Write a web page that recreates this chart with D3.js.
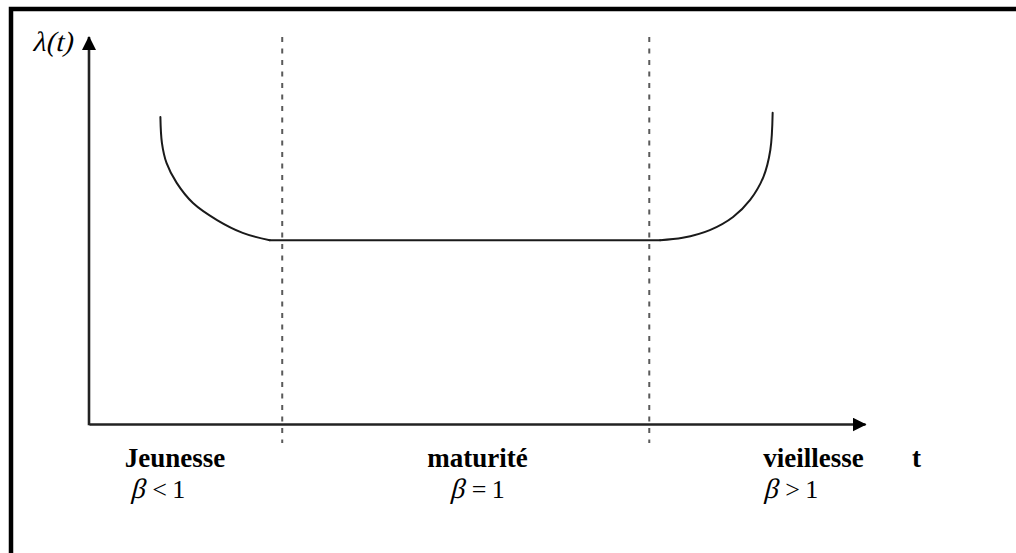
<!DOCTYPE html>
<html>
<head>
<meta charset="utf-8">
<script src="https://cdn.jsdelivr.net/npm/d3@7"></script>
<style>
  html, body { margin: 0; padding: 0; background: #fff; }
  svg { display: block; }
</style>
</head>
<body>
<svg id="chart" width="1016" height="553"></svg>
<script>
// Bathtub curve of the failure rate λ(t), drawn in three phases
const youthT       = [0.92, 0.94, 1.00, 1.13, 1.34, 1.65, 1.98, 2.33];
const youthLambda  = [7.93, 7.26, 6.74, 6.23, 5.71, 5.27, 4.94, 4.75];
const matureT      = [2.33, 7.36];
const matureLambda = [4.75, 4.75];
const oldT         = [7.36, 7.65, 8.00, 8.30, 8.52, 8.69, 8.78, 8.81];
const oldLambda    = [4.75, 4.81, 5.01, 5.35, 5.79, 6.38, 7.08, 8.04];

// Phase boundaries (dashed verticals)
const boundaries = [2.49, 7.22];

// Phase labels below the t axis
const phaseNames  = ["Jeunesse", "maturité", "vieillesse"];
const phaseNameT  = [0.46, 4.36, 8.69];
const betaSigns   = ["<", "=", ">"];
const betaT       = [0.53, 4.65, 8.69];

const svg = d3.select("#chart");
const W = 1016, H = 553;
const SERIF = "Liberation Serif";

const x = d3.scaleLinear().domain([0, 10]).range([89, 865]);
const y = d3.scaleLinear().domain([0, 10]).range([424, 37]);

// outer frame
svg.append("rect")
  .attr("x", 11).attr("y", 9)
  .attr("width", W).attr("height", H)
  .attr("fill", "none").attr("stroke", "#000").attr("stroke-width", 4.5);

// arrowheads
svg.append("defs").append("marker")
  .attr("id", "arrow")
  .attr("viewBox", "0 0 14 14")
  .attr("refX", 13).attr("refY", 7)
  .attr("markerWidth", 14).attr("markerHeight", 14)
  .attr("markerUnits", "userSpaceOnUse")
  .attr("orient", "auto")
  .append("path")
  .attr("d", "M0,0 L14,7 L0,14 Z")
  .attr("fill", "#000");

// axes: no ticks, domain line ends in an arrow
function arrowAxis(g) {
  g.select(".domain")
    .attr("stroke", "#222").attr("stroke-width", 2.6)
    .attr("marker-end", "url(#arrow)");
}
svg.append("g")
  .attr("transform", `translate(0,${y(0)})`)
  .call(d3.axisBottom(x).tickValues([]).tickSizeOuter(0))
  .call(arrowAxis);
svg.append("g")
  .attr("transform", `translate(${x(0)},0)`)
  .call(d3.axisLeft(y).tickValues([]).tickSizeOuter(0))
  .call(g => g.select(".domain").attr("d", `M0,${y(0) + 1.3}V${y(10)}`))
  .call(arrowAxis);

// dashed phase boundaries
svg.selectAll(".boundary")
  .data(boundaries)
  .join("line")
  .attr("class", "boundary")
  .attr("x1", d => x(d)).attr("x2", d => x(d))
  .attr("y1", y(10)).attr("y2", y(0) + 19)
  .attr("stroke", "#5a5a5a").attr("stroke-width", 2)
  .attr("stroke-dasharray", "5,6.5");

// hazard curve
const line = d3.line()
  .x(d => x(d[0])).y(d => y(d[1]))
  .curve(d3.curveCatmullRom.alpha(0.5));
const phases = [
  [youthT, youthLambda],
  [matureT, matureLambda],
  [oldT, oldLambda]
].map(([ts, ls]) => ts.map((t, i) => [t, ls[i]]));
svg.selectAll(".hazard")
  .data(phases)
  .join("path")
  .attr("class", "hazard")
  .attr("d", line)
  .attr("fill", "none")
  .attr("stroke", "#1a1a1a")
  .attr("stroke-width", 2)
  .attr("stroke-linecap", "round");

// italic look produced by slanting the upright serif face
function slanted(px, py, size, str) {
  return svg.append("text")
    .attr("transform", `translate(${px},${py}) skewX(-14)`)
    .attr("font-family", SERIF)
    .attr("font-size", size)
    .attr("fill", "#000")
    .text(str);
}

// y-axis label λ(t)
slanted(32, 51, 28, "λ(t)");

// phase names
svg.selectAll(".phase")
  .data(phaseNames)
  .join("text")
  .attr("class", "phase")
  .attr("x", (d, i) => x(phaseNameT[i]))
  .attr("y", 467)
  .attr("font-family", SERIF)
  .attr("font-weight", "bold")
  .attr("font-size", 27)
  .attr("fill", "#000")
  .text(d => d);

// t label at the end of the time axis
svg.append("text")
  .attr("x", 912).attr("y", 467)
  .attr("font-family", SERIF)
  .attr("font-weight", "bold")
  .attr("font-size", 27)
  .attr("fill", "#000")
  .text("t");

// shape parameter ranges: β <sign> 1
betaSigns.forEach((s, i) => {
  const bx = x(betaT[i]);
  slanted(bx, 498, 28, "β");
  svg.append("text")
    .attr("x", bx + 22).attr("y", 498)
    .attr("font-family", SERIF)
    .attr("font-size", 26)
    .attr("fill", "#000")
    .text(s);
  svg.append("text")
    .attr("x", bx + 42).attr("y", 498)
    .attr("font-family", SERIF)
    .attr("font-size", 26)
    .attr("fill", "#000")
    .text("1");
});
</script>
</body>
</html>
